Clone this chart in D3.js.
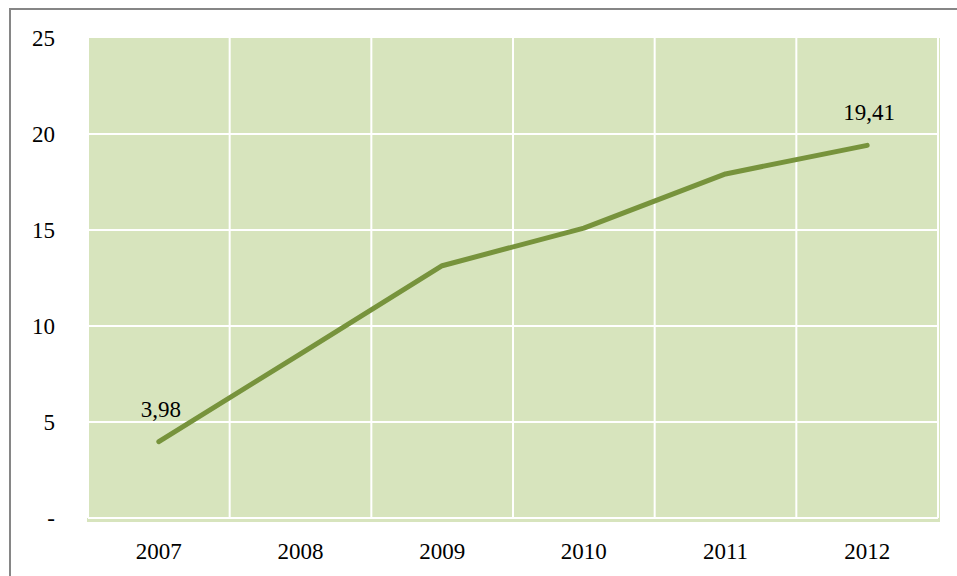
<!DOCTYPE html>
<html>
<head>
<meta charset="utf-8">
<script src="https://cdn.jsdelivr.net/npm/d3@7"></script>
<style>
  body { margin: 0; background: #fff; }
  svg { display: block; }
</style>
</head>
<body>
<div id="chart"></div>
<script>
var years = ["2007", "2008", "2009", "2010", "2011", "2012"];
var values = [3.98, 8.55, 13.14, 15.1, 17.92, 19.41];
var yTicks = [0, 5, 10, 15, 20, 25];
var yTickLabels = ["-", "5", "10", "15", "20", "25"];
var shownLabels = ["3,98", "", "", "", "", "19,41"];

var width = 957, height = 576;
var plotLeft = 88, plotRight = 938, plotTop = 38, plotBottom = 518;
var font = "'Liberation Serif', 'DejaVu Serif', serif";

var svg = d3.select("#chart").append("svg")
    .attr("width", width)
    .attr("height", height);

// outer frame (runs off the right and bottom edge)
svg.append("rect")
    .attr("x", 10).attr("y", 9)
    .attr("width", width + 20).attr("height", height + 20)
    .style("fill", "#fff")
    .style("stroke", "#868686")
    .style("stroke-width", 2);

var x = d3.scaleBand().domain(years).range([plotLeft, plotRight]).padding(0);
var y = d3.scaleLinear().domain([0, 25]).range([plotBottom, plotTop]);

// plot background
svg.append("rect")
    .attr("x", plotLeft - 1).attr("y", plotTop)
    .attr("width", plotRight - plotLeft + 3).attr("height", plotBottom - plotTop + 4)
    .style("fill", "#d7e4bd");

// horizontal grid
svg.selectAll(".hgrid")
    .data(yTicks.slice(0, -1))
    .enter().append("line")
    .attr("x1", plotLeft).attr("x2", plotRight)
    .attr("y1", function(d) { return y(d); })
    .attr("y2", function(d) { return y(d); })
    .style("stroke", "#fff")
    .style("stroke-width", 2);

// vertical grid at category edges
var edges = years.map(function(d) { return x(d); }).concat([plotRight]);
svg.selectAll(".vgrid")
    .data(edges)
    .enter().append("line")
    .attr("x1", function(d) { return d; })
    .attr("x2", function(d) { return d; })
    .attr("y1", plotTop).attr("y2", plotBottom)
    .style("stroke", "#fff")
    .style("stroke-width", 2);

// axes
var yAxis = svg.append("g")
    .attr("transform", "translate(" + plotLeft + ",0)")
    .call(d3.axisLeft(y).tickValues(yTicks).tickSize(0).tickPadding(33)
        .tickFormat(function(d, i) { return yTickLabels[i]; }));
yAxis.select(".domain").remove();
yAxis.selectAll("text")
    .style("font-family", font)
    .style("font-size", "23px")
    .style("fill", "#000");

var xAxis = svg.append("g")
    .attr("transform", "translate(0," + plotBottom + ")")
    .call(d3.axisBottom(x).tickSize(0).tickPadding(25));
xAxis.select(".domain").remove();
xAxis.selectAll("text")
    .style("font-family", font)
    .style("font-size", "23px")
    .style("fill", "#000");

// line
var cx = function(d, i) { return x(years[i]) + x.bandwidth() / 2; };
var line = d3.line()
    .x(cx)
    .y(function(d) { return y(d); });

svg.append("path")
    .datum(values)
    .attr("d", line)
    .style("fill", "none")
    .style("stroke", "#77933c")
    .style("stroke-width", 5)
    .style("stroke-linecap", "round")
    .style("stroke-linejoin", "round");

// data labels on the ends
svg.selectAll(".dlabel")
    .data(values)
    .enter().append("text")
    .attr("x", function(d, i) { return cx(d, i) + 2; })
    .attr("y", function(d) { return y(d) - 25; })
    .attr("text-anchor", "middle")
    .text(function(d, i) { return shownLabels[i]; })
    .style("font-family", font)
    .style("font-size", "23px")
    .style("fill", "#000");
</script>
</body>
</html>
